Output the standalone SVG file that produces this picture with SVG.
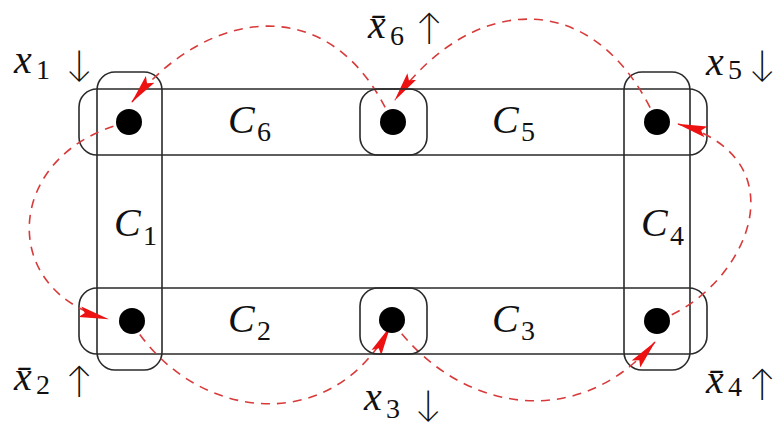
<svg xmlns="http://www.w3.org/2000/svg" width="778" height="428" viewBox="0 0 778 428">
<style>
.box{fill:none;stroke:#2a2a2a;stroke-width:1.6}
.dot{fill:#000}
.m{font-family:"Liberation Serif",serif;font-style:italic;font-size:40px;fill:#111}
.s{font-style:normal;font-size:28px}
.ar{font-family:Lato,"Noto Sans",sans-serif;font-weight:300;font-size:36px;fill:#111;text-anchor:middle}
.cn{fill:none;stroke:#d83a3a;stroke-width:1.6;stroke-dasharray:9 7}
</style>
<defs>
<marker id="ah" viewBox="0 0 30 12" refX="29" refY="6" markerWidth="30" markerHeight="12" markerUnits="userSpaceOnUse" orient="auto">
<path d="M0,0.5 L30,6 L0,11.5 L5,6 z" fill="#ee1111"/>
</marker>
</defs>
<g id="C6"><rect class="box" x="79" y="89" width="628" height="66" rx="18"/><text class="m" x="228" y="133">C<tspan class="s" x="257" y="141">6</tspan></text></g>
<g id="C2"><rect class="box" x="79" y="288" width="628" height="66" rx="18"/><text class="m" x="228" y="332">C<tspan class="s" x="257" y="340">2</tspan></text></g>
<g id="C1"><rect class="box" x="97" y="72" width="65" height="298" rx="18"/><text class="m" x="114" y="236">C<tspan class="s" x="143" y="245">1</tspan></text></g>
<g id="C4"><rect class="box" x="624" y="72" width="66" height="298" rx="18"/><text class="m" x="641" y="236">C<tspan class="s" x="670" y="245">4</tspan></text></g>
<g id="C5"><text class="m" x="492" y="133">C<tspan class="s" x="521" y="141">5</tspan></text></g>
<g id="C3"><text class="m" x="492" y="332">C<tspan class="s" x="521" y="340">3</tspan></text></g>
<g id="connectors">
<path class="cn" marker-end="url(#ah)" d="M129,122 C5,150 -5,290 108,319"/>
<path class="cn" marker-end="url(#ah)" d="M131,321 C190,420 330,440 390,327"/>
<path class="cn" marker-end="url(#ah)" d="M392,321 C455,410 575,435 655,342"/>
<path class="cn" marker-end="url(#ah)" d="M657,321 C745,290 805,160 678,124"/>
<path class="cn" marker-end="url(#ah)" d="M657,122 C595,-18 470,-5 395,100"/>
<path class="cn" marker-end="url(#ah)" d="M392,122 C335,-10 210,5 132,102"/>
</g>
<g id="v1"><circle class="dot" cx="129" cy="122" r="13"/><text class="m" x="14" y="73">x<tspan class="s" x="36" y="79">1</tspan></text><text class="ar" x="79" y="76">↓</text></g>
<g id="v6"><rect class="box" x="360" y="89" width="67" height="66" rx="18"/><circle class="dot" cx="393" cy="122" r="13"/><text class="m" x="368" y="38">x̄<tspan class="s" x="390" y="45">6</tspan></text><text class="ar" x="429" y="40">↑</text></g>
<g id="v5"><circle class="dot" cx="657" cy="122" r="13"/><text class="m" x="706" y="75">x<tspan class="s" x="728" y="79">5</tspan></text><text class="ar" x="762" y="76">↓</text></g>
<g id="v2"><circle class="dot" cx="132" cy="321" r="13"/><text class="m" x="14" y="390">x̄<tspan class="s" x="36" y="394">2</tspan></text><text class="ar" x="79" y="393">↑</text></g>
<g id="v3"><rect class="box" x="360" y="288" width="67" height="66" rx="18"/><circle class="dot" cx="392" cy="320" r="13"/><text class="m" x="364" y="410">x<tspan class="s" x="386" y="418">3</tspan></text><text class="ar" x="428" y="416">↓</text></g>
<g id="v4"><circle class="dot" cx="657" cy="321" r="13"/><text class="m" x="706" y="393">x̄<tspan class="s" x="728" y="396">4</tspan></text><text class="ar" x="762" y="396">↑</text></g>
</svg>
